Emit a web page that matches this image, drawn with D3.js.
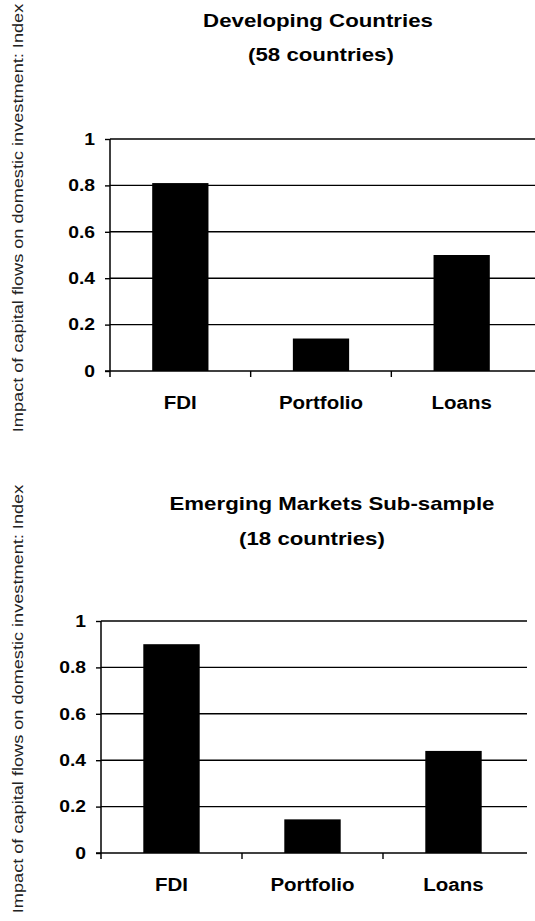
<!DOCTYPE html>
<html>
<head>
<meta charset="utf-8">
<script src="https://cdn.jsdelivr.net/npm/d3@7"></script>
<style>
  html, body { margin: 0; padding: 0; background: #fff; }
  svg { display: block; font-family: "Liberation Sans", Arial, Helvetica, sans-serif; }
</style>
</head>
<body>
<svg id="chart" width="535" height="921"></svg>
<script>
// ---- data ----
const categories = ["FDI", "Portfolio", "Loans"];
const developingValues = [0.81, 0.14, 0.50];
const emergingValues = [0.90, 0.145, 0.44];
const yTicks = [0, 0.2, 0.4, 0.6, 0.8, 1];
const yTickLabels = ["0", "0.2", "0.4", "0.6", "0.8", "1"];
const panelTitles = [
  ["Developing Countries", "(58 countries)"],
  ["Emerging Markets Sub-sample", "(18 countries)"]
];
const yAxisLabel = "Impact of capital flows on domestic investment: Index";

// ---- layout ----
const STRETCH = 1.17; // scanned glyphs are horizontally wide
const panels = [
  { values: developingValues, titles: panelTitles[0], left: 110, right: 532, top: 139, bottom: 371,
    titleX: [318, 321], titleY: [27, 61], labelCenter: 218 },
  { values: emergingValues, titles: panelTitles[1], left: 101, right: 524, top: 621, bottom: 853,
    titleX: [332, 312], titleY: [510, 545], labelCenter: 699 }
];

const svg = d3.select("#chart");

function stretch(sel) {
  sel.each(function () {
    const len = this.getComputedTextLength();
    d3.select(this).attr("textLength", len * STRETCH).attr("lengthAdjust", "spacingAndGlyphs");
  });
}

panels.forEach(p => {
  const g = svg.append("g");
  const x = d3.scaleBand().domain(categories).range([p.left, p.right])
    .paddingInner(0.6).paddingOuter(0.3);
  const y = d3.scaleLinear().domain([0, 1]).range([p.bottom, p.top]);

  // gridlines
  g.append("g").selectAll("line").data(yTicks.filter(t => t > 0)).join("line")
    .attr("x1", p.left).attr("x2", p.right + 3)
    .attr("y1", d => y(d)).attr("y2", d => y(d))
    .attr("stroke", "#000").attr("stroke-width", 1.4);

  // bars
  g.append("g").selectAll("rect").data(categories).join("rect")
    .attr("x", d => x(d))
    .attr("width", x.bandwidth())
    .attr("y", (d, i) => y(p.values[i]))
    .attr("height", (d, i) => y(0) - y(p.values[i]))
    .attr("fill", "#000");

  // y axis
  const yAxis = d3.axisLeft(y).tickValues(yTicks)
    .tickFormat((d, i) => yTickLabels[i]).tickSize(5).tickPadding(10);
  const ya = g.append("g").attr("transform", `translate(${p.left},0)`).call(yAxis);
  ya.select(".domain").attr("d", `M-0,${p.top}V${p.bottom + 6}`).attr("stroke-width", 1.5);
  ya.selectAll(".tick line").attr("stroke-width", 1.4);
  ya.selectAll(".tick text")
    .attr("font-size", 16.5).attr("font-weight", "bold").attr("fill", "#000")
    .attr("font-family", "'Liberation Sans', Arial, sans-serif")
    .call(stretch);

  // x axis: ticks at band boundaries
  const xa = g.append("g").attr("transform", `translate(0,${p.bottom})`);
  xa.append("line").attr("x1", p.left - 5).attr("x2", p.right + 3)
    .attr("stroke", "#000").attr("stroke-width", 1.5);
  const step = x.step();
  const boundaries = categories.map(c => x(c) - step * 0.3);
  xa.selectAll("line.bt").data(boundaries.slice(1)).join("line").attr("class", "bt")
    .attr("x1", d => d).attr("x2", d => d).attr("y1", 0).attr("y2", 6)
    .attr("stroke", "#000").attr("stroke-width", 1.4);
  xa.selectAll("text").data(categories).join("text")
    .attr("x", d => x(d) + x.bandwidth() / 2)
    .attr("y", 38)
    .attr("text-anchor", "middle")
    .attr("font-size", 17.5).attr("font-weight", "bold").attr("fill", "#000")
    .text(d => d)
    .call(stretch);

  // titles
  p.titles.forEach((t, i) => {
    svg.append("text")
      .attr("x", p.titleX[i]).attr("y", p.titleY[i])
      .attr("text-anchor", "middle")
      .attr("font-size", 19).attr("font-weight", "bold").attr("fill", "#000")
      .text(t)
      .call(stretch);
  });

  // y axis label
  svg.append("text")
    .attr("transform", `translate(23,${p.labelCenter}) rotate(-90)`)
    .attr("text-anchor", "middle")
    .attr("font-size", 15.5).attr("fill", "#222")
    .text(yAxisLabel)
    .call(stretch);
});
</script>
</body>
</html>
